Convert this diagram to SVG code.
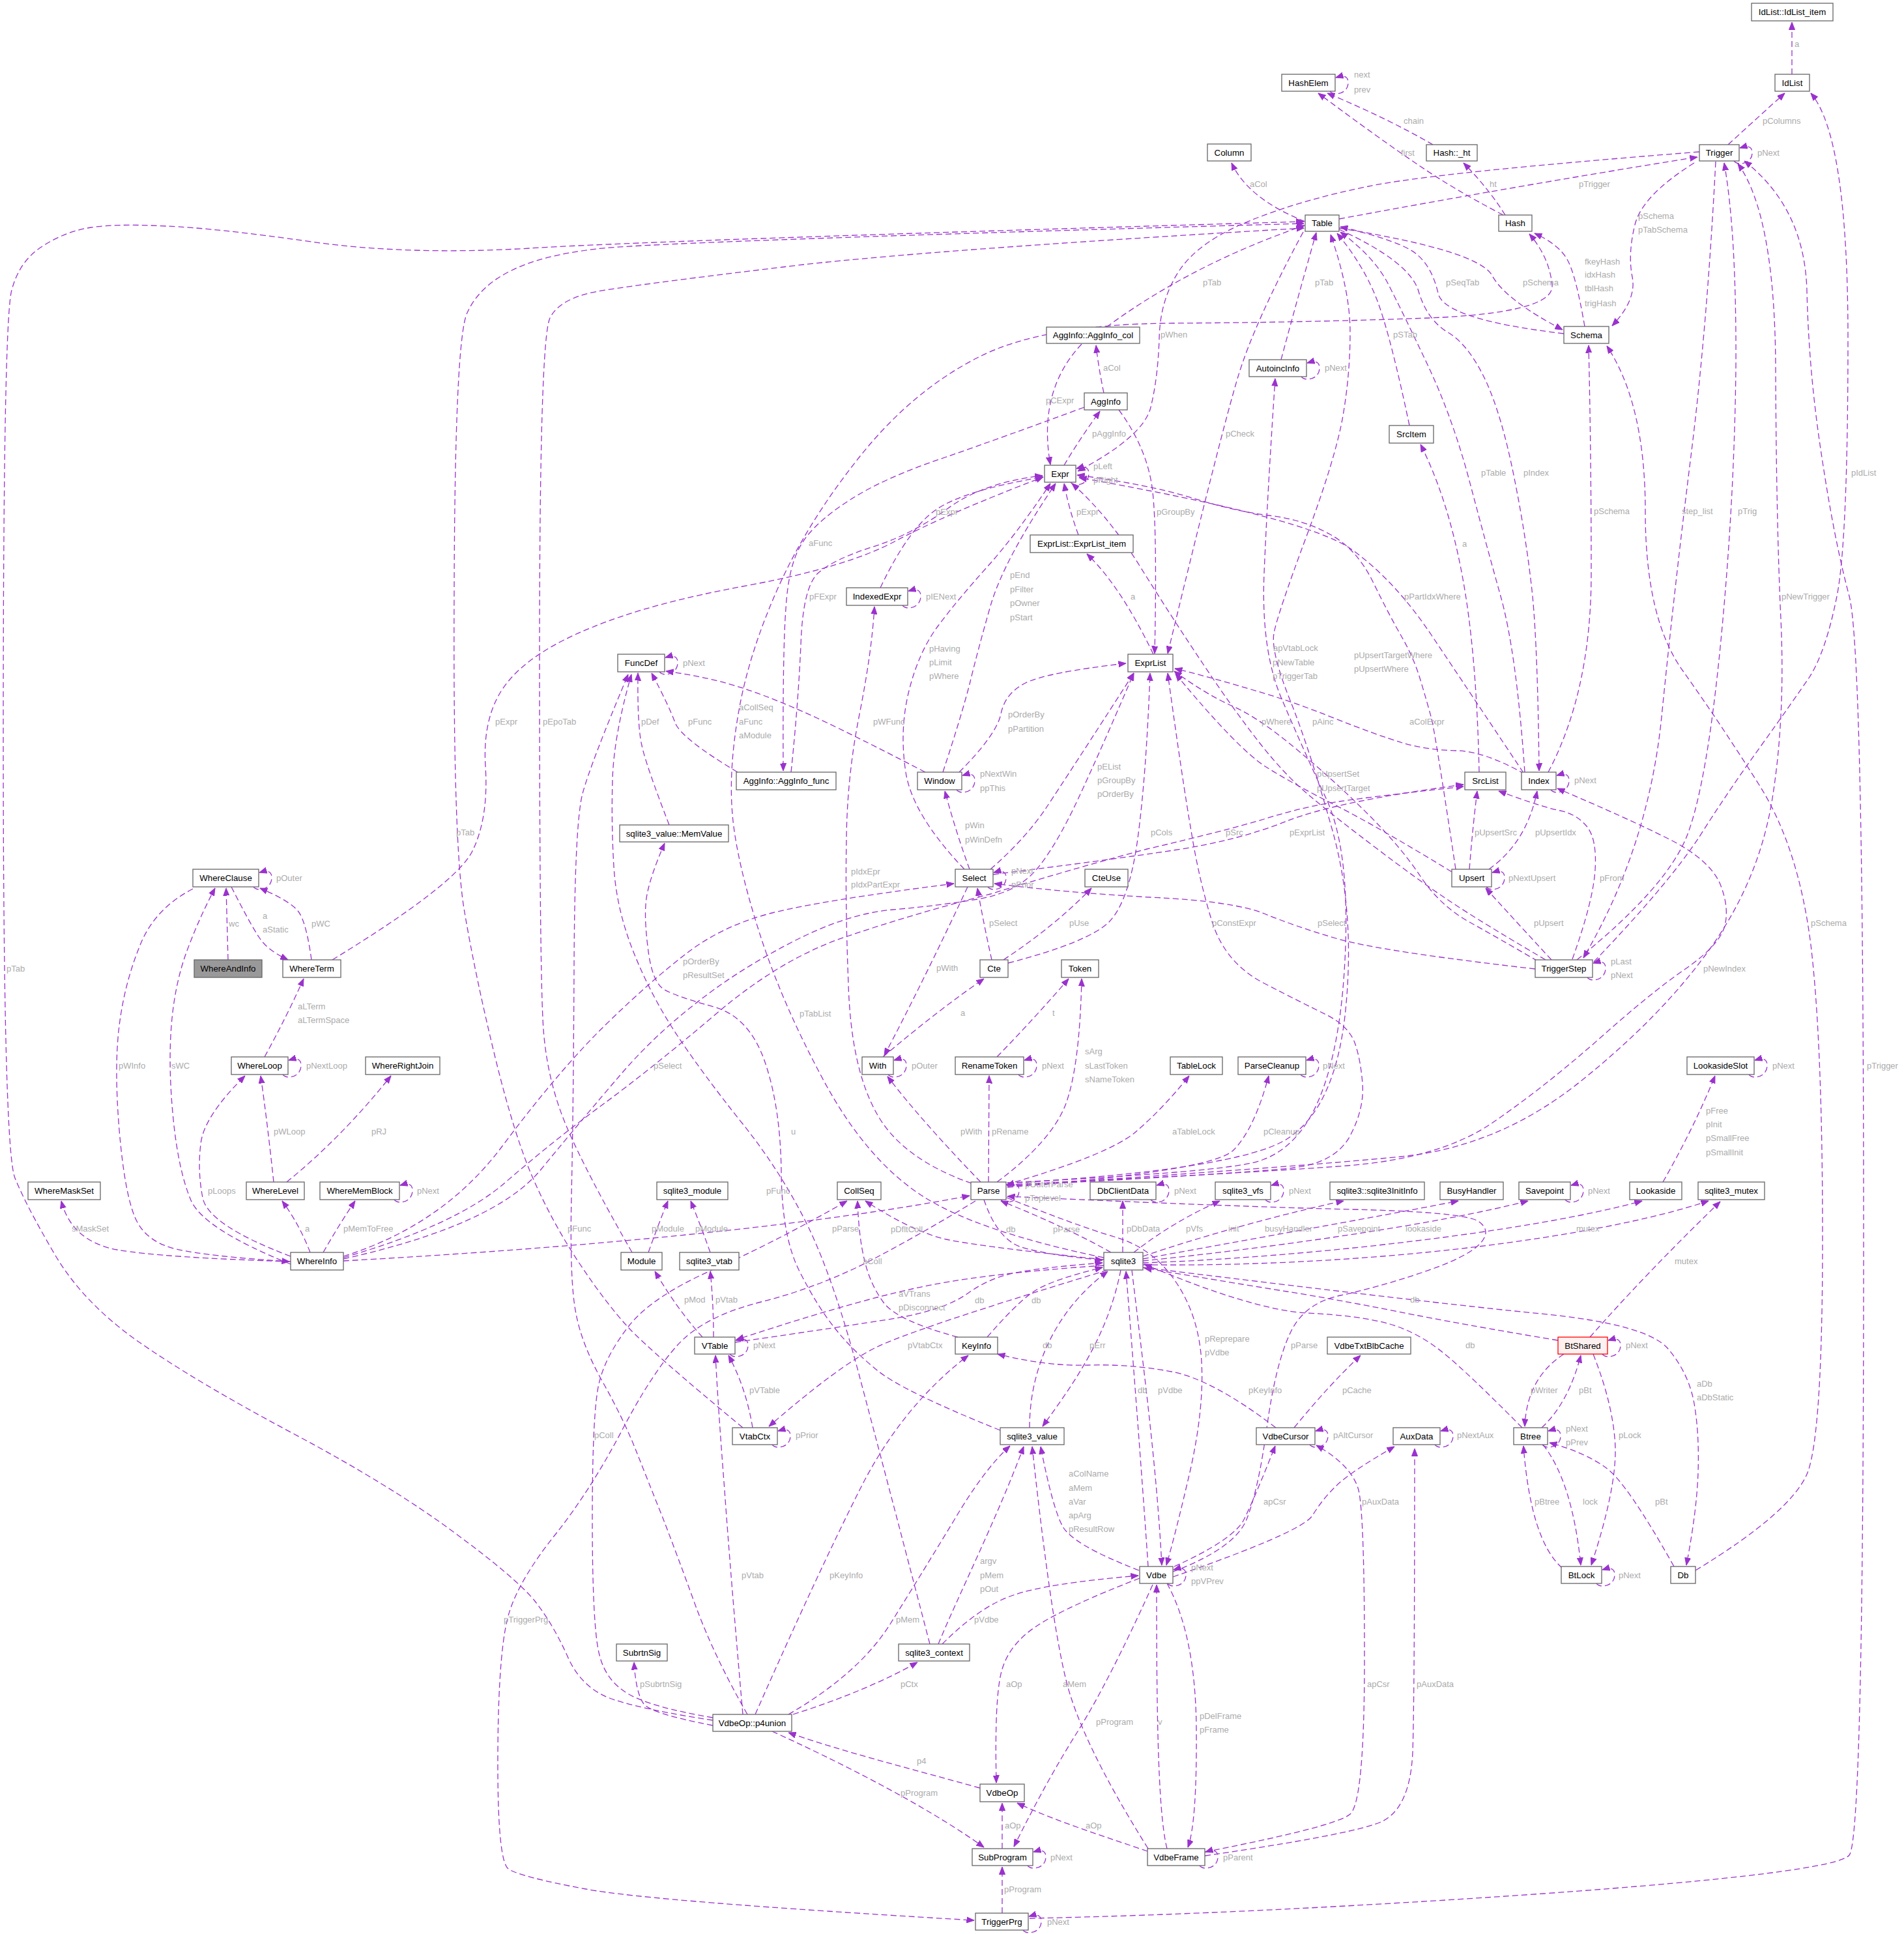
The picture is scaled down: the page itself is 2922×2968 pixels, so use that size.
<svg xmlns="http://www.w3.org/2000/svg" width="2922" height="2968" viewBox="0 0 2922 2968">
<style>
.n rect{fill:#fff;stroke:#666;stroke-width:1.3}
.n text{font-family:"Liberation Sans",Arial,sans-serif;font-size:13.3px;text-anchor:middle;fill:#000}
.e path{fill:none;stroke:#9a32cd;stroke-width:1.3;stroke-dasharray:9,5;marker-end:url(#ah)}
.l text{font-family:"Liberation Sans",Arial,sans-serif;font-size:13px;fill:#ababab}
</style>
<defs>
<marker id="ah" viewBox="0 0 12 10" refX="11.5" refY="5" markerWidth="12" markerHeight="10" markerUnits="userSpaceOnUse" orient="auto"><path d="M0,0.5 L11.5,5 L0,9.5 z" fill="#9a32cd" stroke="#9a32cd" stroke-width="1"/></marker>
</defs>
<rect width="2922" height="2968" fill="#fff"/>
<g id="edges" class="e">
<path d="M2750,114 L2750,34"/>
<path d="M2652,222 Q2700,178 2739,143"/>
<path d="M2199,222 Q2130,182 2037,143"/>
<path d="M2307,330 Q2230,290 2175,252 Q2120,215 2023,143"/>
<path d="M2041,140 C2047,148 2069,144 2069,127 C2069,117 2063,115 2050,119"/>
<path d="M2310,330 Q2285,290 2246,250"/>
<path d="M2661,247 C2667,255 2689,251 2689,235 C2689,225 2683,223 2670,227"/>
<path d="M2055,336 Q2330,285 2605,241"/>
<path d="M2608,233 Q2200,265 2100,286 Q2000,306 1920,338 Q1840,370 1810,415 Q1780,460 1779,520 Q1777,580 1766,625 Q1755,670 1654,723"/>
<path d="M2003,340 Q1915,305 1890,250"/>
<path d="M2600,250 Q2520,300 2509,345 Q2498,390 2505,425 Q2512,460 2474,500"/>
<path d="M2432,501 Q2418,420 2405,398 Q2392,375 2355,358"/>
<path d="M2400,512 Q2215,490 2207,450 Q2198,410 2174,390 Q2150,370 2057,348"/>
<path d="M2055,350 Q2270,385 2290,423 Q2310,460 2398,506"/>
<path d="M1694,1930 Q1500,1890 1415,1835 Q1330,1780 1265,1660 Q1200,1540 1165,1430 Q1130,1320 1124,1250 Q1118,1180 1134,1090 Q1150,1000 1195,900 Q1240,800 1320,700 Q1400,600 1500,549 Q1600,497 1800,496 Q2000,495 2193,488 Q2385,480 2382,438 Q2378,395 2347,359"/>
<path d="M1698,502 Q1830,405 2002,346"/>
<path d="M1660,528 Q1592,600 1612,713"/>
<path d="M1694,603 Q1686,565 1682,530"/>
<path d="M1633,714 Q1658,672 1688,631"/>
<path d="M1717,629 Q1762,690 1769,755 Q1776,820 1772,1003"/>
<path d="M2000,356 Q1925,495 1900,578 Q1875,660 1792,1003"/>
<path d="M1966,552 Q1992,455 2020,357"/>
<path d="M1997,578 C2003,586 2025,582 2025,565 C2025,555 2019,553 2006,557"/>
<path d="M2163,653 Q2135,520 2115,465 Q2095,410 2052,358"/>
<path d="M2340,1185 Q2327,1000 2303,915 Q2279,829 2254,734 Q2228,638 2190,558 Q2152,478 2131,437 Q2110,395 2057,356"/>
<path d="M2055,352 Q2164,402 2177,447 Q2190,491 2222,510 Q2254,529 2280,584 Q2305,638 2324,734 Q2343,829 2352,915 Q2360,1000 2362,1183"/>
<path d="M2380,1212 C2386,1220 2408,1216 2408,1198 C2408,1188 2402,1186 2389,1190"/>
<path d="M2376,1185 Q2442,1060 2442,880 Q2442,700 2438,530"/>
<path d="M2602,2410 Q2750,2320 2774,2260 Q2797,2200 2797,1900 Q2797,1600 2779,1450 Q2760,1300 2700,1205 Q2640,1110 2583,1030 Q2525,950 2525,785 Q2525,620 2466,531"/>
<path d="M2420,1473 Q2560,1360 2590,1280 Q2620,1200 2641,983 Q2662,765 2664,561 Q2665,357 2646,250"/>
<path d="M2633,248 Q2620,500 2595,700 Q2570,900 2550,1100 Q2530,1300 2430,1470"/>
<path d="M1546,1820 Q2000,1790 2150,1775 Q2300,1760 2425,1660 Q2550,1560 2625,1455 Q2700,1350 2720,1225 Q2740,1100 2733,950 Q2726,800 2725,565 Q2724,330 2667,251"/>
<path d="M1580,2944 Q1922,2937 2369,2906 Q2815,2874 2838,2847 Q2860,2820 2860,1910 Q2860,1000 2838,915 Q2815,829 2796,702 Q2776,574 2773,447 Q2770,320 2677,247"/>
<path d="M2446,1476 Q2560,1357 2608,1284 Q2655,1210 2703,1144 Q2751,1077 2777,1039 Q2802,1000 2819,915 Q2836,830 2836,520 Q2836,210 2779,143"/>
<path d="M510,1473 Q700,1357 725,1306 Q750,1255 745,1176 Q740,1096 778,1048 Q816,1000 908,963 Q1000,925 1150,898 Q1300,870 1375,830 Q1450,790 1601,732"/>
<path d="M970,1922 Q900,1800 870,1730 Q840,1660 834,1580 Q828,1500 828,1010 Q828,520 844,488 Q860,455 930,445 Q1000,434 1200,410 Q1400,385 2001,350"/>
<path d="M1140,2191 Q1000,2075 965,2038 Q930,2000 890,1940 Q850,1880 820,1813 Q790,1746 760,1623 Q730,1500 713,1400 Q695,1300 697,910 Q698,520 717,480 Q735,440 783,416 Q830,392 915,382 Q1000,371 2001,343"/>
<path d="M1094,2640 Q995,2625 944,2609 Q893,2593 871,2542 Q848,2491 820,2456 Q791,2421 696,2351 Q600,2280 450,2200 Q300,2120 214,2060 Q128,2000 84,1925 Q40,1850 23,1808 Q5,1765 5,1128 Q5,490 18,445 Q30,400 65,378 Q100,355 140,349 Q179,343 255,347 Q330,350 478,371 Q625,392 813,381 Q1000,369 2001,340"/>
<path d="M1497,1843 Q1415,1893 1335,1935 Q1255,1976 1168,1998 Q1080,2020 1040,2064 Q1000,2108 953,2198 Q906,2287 853,2354 Q800,2420 783,2470 Q765,2520 764,2688 Q763,2855 780,2868 Q797,2880 899,2899 Q1000,2918 1495,2947"/>
<path d="M350,1473 L347,1363"/>
<path d="M389,1361 C395,1369 417,1365 417,1347 C417,1337 411,1335 398,1339"/>
<path d="M355,1361 Q385,1420 398,1439 Q410,1458 442,1473"/>
<path d="M478,1473 Q470,1415 458,1399 Q446,1383 399,1363"/>
<path d="M296,1364 Q236,1395 214,1453 Q191,1510 183,1574 Q175,1638 183,1734 Q191,1829 207,1868 Q223,1906 271,1917 Q319,1928 444,1936"/>
<path d="M446,1940 Q312,1886 293,1842 Q274,1797 266,1718 Q258,1638 263,1574 Q268,1510 287,1459 Q306,1408 330,1363"/>
<path d="M406,1622 Q440,1560 466,1502"/>
<path d="M434,1649 C440,1657 462,1653 462,1635 C462,1625 456,1623 443,1627"/>
<path d="M420,1814 Q410,1720 400,1651"/>
<path d="M440,1814 Q525,1745 600,1651"/>
<path d="M446,1928 Q319,1880 311,1838 Q303,1797 308,1756 Q312,1714 376,1651"/>
<path d="M446,1936 Q250,1930 180,1918 Q110,1905 94,1843"/>
<path d="M476,1922 Q460,1880 433,1843"/>
<path d="M496,1922 Q520,1880 545,1843"/>
<path d="M605,1841 C611,1849 633,1845 633,1827 C633,1817 627,1815 614,1819"/>
<path d="M527,1935 C800,1920 1200,1890 1488,1835"/>
<path d="M527,1928 Q680,1880 770,1760 Q860,1640 930,1572 Q1000,1504 1055,1462 Q1110,1420 1185,1401 Q1260,1382 1464,1356"/>
<path d="M527,1932 Q760,1880 830,1795 Q900,1710 950,1652 Q1000,1593 1065,1542 Q1130,1490 1215,1446 Q1300,1402 1370,1396 Q1440,1390 1500,1380 Q1560,1370 1590,1335 Q1620,1300 1655,1225 Q1690,1150 1740,1033"/>
<path d="M527,1930 Q700,1880 775,1815 Q850,1750 925,1695 Q1000,1640 1100,1555 Q1200,1470 1300,1437 Q1400,1403 1520,1372 Q1640,1335 1760,1303 Q1880,1275 1940,1257 Q2000,1238 2055,1230 Q2110,1222 2246,1207"/>
<path d="M1480,1334 Q1400,1250 1390,1185 Q1380,1120 1395,1060 Q1410,1000 1440,960 Q1470,920 1515,870 Q1560,820 1612,742"/>
<path d="M1447,1185 Q1475,1100 1488,1050 Q1500,1000 1520,930 Q1540,860 1620,742"/>
<path d="M1420,1185 Q1312,1129 1254,1102 Q1196,1075 1143,1057 Q1089,1039 1022,1030"/>
<path d="M1012,1031 C1018,1039 1040,1035 1040,1017 C1040,1007 1034,1005 1021,1009"/>
<path d="M1132,1185 Q1045,1133 1036,1109 Q1027,1084 1000,1033"/>
<path d="M1027,1266 Q991,1173 985,1144 Q978,1115 979,1033"/>
<path d="M1147,2631 Q1096,2542 1067,2463 Q1038,2383 1017,2329 Q995,2274 976,2226 Q957,2178 925,2121 Q893,2064 884,2016 Q874,1968 877,1834 Q880,1700 881,1482 Q882,1263 894,1218 Q906,1173 964,1035"/>
<path d="M1427,2523 Q1357,2255 1319,2112 Q1281,1968 1241,1884 Q1200,1800 1140,1725 Q1080,1650 1040,1590 Q1000,1530 973,1463 Q946,1396 942,1330 Q938,1263 940,1196 Q942,1129 969,1035"/>
<path d="M1535,2195 Q1383,2134 1345,2102 Q1306,2070 1281,2038 Q1255,2006 1228,1953 Q1200,1900 1199,1800 Q1198,1700 1174,1630 Q1150,1560 1095,1545 Q1040,1530 1020,1519 Q1000,1508 994,1452 Q987,1396 994,1368 Q1000,1340 1020,1294"/>
<path d="M1120,2078 C1126,2086 1148,2082 1148,2065 C1148,2055 1142,2053 1129,2057"/>
<path d="M1078,2052 Q1040,2010 1005,1951"/>
<path d="M1095,2052 Q1095,2000 1090,1951"/>
<path d="M1128,2060 Q1300,2035 1375,2023 Q1450,2010 1485,1985 Q1520,1960 1560,1953 Q1600,1945 1692,1938"/>
<path d="M1515,2052 Q1560,2000 1585,1983 Q1610,1965 1692,1945"/>
<path d="M1694,1942 Q1500,1955 1400,1978 Q1300,2000 1130,2056"/>
<path d="M1155,2191 Q1145,2130 1118,2080"/>
<path d="M1185,2217 C1191,2225 1213,2221 1213,2204 C1213,2194 1207,2192 1194,2196"/>
<path d="M1700,1949 Q1400,2040 1344,2068 Q1287,2096 1180,2189"/>
<path d="M1140,2631 Q1121,2414 1112,2287 Q1102,2159 1098,2080"/>
<path d="M1159,2631 Q1255,2414 1319,2287 Q1383,2159 1486,2080"/>
<path d="M1210,2631 Q1319,2568 1367,2491 Q1415,2414 1463,2335 Q1510,2255 1550,2219"/>
<path d="M1217,2631 Q1330,2595 1408,2551"/>
<path d="M1094,2648 Q1000,2630 988,2615 Q976,2599 973,2551"/>
<path d="M1185,2657 C1280,2700 1420,2770 1510,2835"/>
<path d="M1504,2744 C1400,2715 1300,2690 1210,2659"/>
<path d="M1761,2841 C1700,2820 1620,2795 1561,2767"/>
<path d="M1538,2837 L1538,2767"/>
<path d="M1577,2863 C1583,2871 1605,2867 1605,2850 C1605,2840 1599,2838 1586,2842"/>
<path d="M1538,2936 L1538,2865"/>
<path d="M1570,2962 C1576,2970 1598,2966 1598,2949 C1598,2939 1592,2937 1579,2941"/>
<path d="M1749,2422 Q1638,2465 1593,2494 Q1548,2523 1537,2565 Q1526,2606 1529,2736"/>
<path d="M1769,2432 Q1702,2580 1654,2657 Q1606,2733 1556,2834"/>
<path d="M1791,2837 C1776,2780 1775,2600 1775,2432"/>
<path d="M1791,2430 Q1835,2510 1836,2654 Q1837,2797 1823,2835"/>
<path d="M1841,2863 C1847,2871 1869,2867 1869,2850 C1869,2840 1863,2838 1850,2842"/>
<path d="M1762,2837 Q1657,2670 1635,2574 Q1612,2478 1584,2220"/>
<path d="M1748,2410 Q1644,2370 1630,2341 Q1615,2312 1597,2220"/>
<path d="M1440,2523 C1470,2450 1530,2330 1571,2220"/>
<path d="M1446,2523 Q1504,2465 1555,2448 Q1606,2430 1747,2418"/>
<path d="M1762,2404 C1755,2300 1740,2100 1728,1951"/>
<path d="M1737,1949 C1755,2100 1775,2250 1783,2402"/>
<path d="M1545,1838 Q1650,1880 1710,1898 Q1770,1915 1805,1968 Q1840,2020 1844,2090 Q1848,2160 1827,2255 Q1805,2350 1790,2402"/>
<path d="M1800,2412 Q1895,2376 1913,2332 Q1931,2287 1944,2192 Q1957,2096 1979,2048 Q2000,2000 2057,1988 Q2113,1976 2182,1953 Q2250,1930 2270,1910 Q2290,1890 2270,1875 Q2250,1860 2075,1856 Q1900,1852 1546,1836"/>
<path d="M1705,1922 Q1640,1885 1536,1843"/>
<path d="M1510,1841 Q1530,1900 1565,1913 Q1600,1925 1692,1934"/>
<path d="M1536,1841 C1542,1849 1564,1845 1564,1827 C1564,1817 1558,1815 1545,1819"/>
<path d="M1694,1933 Q1504,1913 1452,1902 Q1400,1890 1328,1843"/>
<path d="M1470,2052 Q1377,2027 1356,1999 Q1335,1970 1327,1935 Q1318,1900 1316,1843"/>
<path d="M1094,2636 Q1000,2620 965,2600 Q930,2580 920,2540 Q909,2500 909,2330 Q909,2160 920,2120 Q930,2080 965,2035 Q1000,1990 1095,1948 Q1190,1906 1300,1843"/>
<path d="M1723,1922 L1723,1843"/>
<path d="M1766,1841 C1772,1849 1794,1845 1794,1827 C1794,1817 1788,1815 1775,1819"/>
<path d="M1740,1922 Q1800,1875 1872,1843"/>
<path d="M1942,1841 C1948,1849 1970,1845 1970,1827 C1970,1817 1964,1815 1951,1819"/>
<path d="M1754,1928 C1850,1895 1980,1860 2062,1843"/>
<path d="M1754,1932 C1900,1905 2100,1870 2238,1843"/>
<path d="M1754,1935 C1950,1915 2200,1880 2345,1843"/>
<path d="M2402,1841 C2408,1849 2430,1845 2430,1827 C2430,1817 2424,1815 2411,1819"/>
<path d="M1754,1938 C2000,1930 2350,1890 2520,1843"/>
<path d="M1754,1941 C2100,1945 2450,1900 2622,1843"/>
<path d="M2440,2052 Q2530,1950 2640,1844"/>
<path d="M2552,1814 Q2600,1730 2632,1651"/>
<path d="M2684,1649 C2690,1657 2712,1653 2712,1635 C2712,1625 2706,1623 2693,1627"/>
<path d="M1754,1945 Q2200,2000 2364,2016 Q2528,2032 2560,2070 Q2592,2108 2600,2154 Q2608,2200 2606,2260 Q2604,2319 2588,2402"/>
<path d="M2569,2404 Q2496,2274 2464,2252 Q2432,2229 2378,2214"/>
<path d="M2336,2191 Q2254,2108 2216,2077 Q2177,2045 2133,2032 Q2088,2019 2005,2015 Q1922,2010 1756,1940"/>
<path d="M2391,2057 Q2241,2032 2146,2013 Q2050,1994 1975,1982 Q1900,1970 1756,1946"/>
<path d="M2400,2078 Q2343,2115 2340,2189"/>
<path d="M2366,2191 Q2407,2153 2426,2080"/>
<path d="M2459,2078 C2465,2086 2487,2082 2487,2065 C2487,2055 2481,2053 2468,2057"/>
<path d="M2445,2078 Q2477,2159 2479,2223 Q2480,2287 2442,2402"/>
<path d="M2367,2217 C2373,2225 2395,2221 2395,2204 C2395,2194 2389,2192 2376,2196"/>
<path d="M2368,2217 Q2413,2274 2426,2402"/>
<path d="M2397,2406 Q2349,2363 2338,2219"/>
<path d="M2450,2430 C2456,2438 2478,2434 2478,2417 C2478,2407 2472,2405 2459,2409"/>
<path d="M1986,2191 Q2040,2125 2088,2080"/>
<path d="M2010,2217 C2016,2225 2038,2221 2038,2204 C2038,2194 2032,2192 2019,2196"/>
<path d="M1958,2191 Q1861,2117 1798,2105 Q1734,2093 1670,2095 Q1606,2097 1531,2078"/>
<path d="M1802,2404 Q1893,2363 1909,2332 Q1925,2300 1957,2219"/>
<path d="M1849,2842 Q2050,2803 2072,2784 Q2094,2765 2094,2545 Q2094,2325 2085,2287 Q2075,2249 2020,2218"/>
<path d="M1849,2848 Q2069,2816 2117,2797 Q2164,2778 2168,2689 Q2171,2600 2171,2223"/>
<path d="M1800,2420 Q1998,2351 2014,2326 Q2030,2300 2050,2281 Q2069,2261 2140,2220"/>
<path d="M2202,2217 C2208,2225 2230,2221 2230,2204 C2230,2194 2224,2192 2211,2196"/>
<path d="M1792,2430 C1798,2438 1820,2434 1820,2417 C1820,2407 1814,2405 1801,2409"/>
<path d="M1720,1949 C1700,2050 1650,2120 1600,2189"/>
<path d="M1580,2191 C1580,2100 1620,2010 1700,1951"/>
<path d="M1505,1814 Q1415,1721 1362,1652"/>
<path d="M1517,1814 L1518,1651"/>
<path d="M1530,1814 Q1612,1753 1635,1696 Q1657,1638 1660,1502"/>
<path d="M1544,1818 Q1702,1772 1743,1737 Q1784,1702 1825,1651"/>
<path d="M1546,1822 Q1861,1797 1893,1765 Q1925,1733 1947,1651"/>
<path d="M1996,1649 C2002,1657 2024,1653 2024,1635 C2024,1625 2018,1623 2005,1627"/>
<path d="M1491,1816 Q1383,1778 1345,1708 Q1306,1638 1302,1511 Q1297,1383 1299,1287 Q1300,1191 1319,1096 Q1338,1000 1342,931"/>
<path d="M1351,902 Q1395,810 1437,782 Q1478,753 1600,732"/>
<path d="M1385,929 C1391,937 1413,933 1413,915 C1413,905 1407,903 1394,907"/>
<path d="M1546,1815 Q1850,1800 1920,1785 Q1990,1770 2025,1685 Q2060,1600 2065,1450 Q2070,1300 2035,1225 Q2000,1150 1968,1075 Q1935,1000 1940,880 Q1945,760 1957,581"/>
<path d="M1546,1816 Q1900,1795 1975,1748 Q2050,1700 2065,1550 Q2080,1400 2045,1275 Q2010,1150 1980,1075 Q1950,1000 1955,972 Q1960,944 2005,823 Q2050,702 2061,638 Q2072,574 2072,510 Q2072,446 2042,360"/>
<path d="M1546,1818 Q1922,1800 2066,1789 Q2209,1778 2289,1724 Q2368,1670 2451,1597 Q2534,1523 2585,1488 Q2636,1453 2646,1424 Q2655,1395 2640,1357 Q2624,1319 2560,1287 Q2496,1255 2390,1210"/>
<path d="M1546,1820 Q1922,1800 1986,1792 Q2050,1784 2072,1743 Q2094,1701 2091,1663 Q2088,1625 2079,1600 Q2069,1574 2035,1557 Q2000,1540 1940,1509 Q1880,1478 1860,1414 Q1840,1350 1828,1275 Q1815,1200 1792,1033"/>
<path d="M2255,1334 Q2260,1270 2267,1214"/>
<path d="M2285,1334 Q2343,1293 2359,1214"/>
<path d="M2281,1361 C2287,1369 2309,1365 2309,1347 C2309,1337 2303,1335 2290,1339"/>
<path d="M2228,1338 Q2113,1268 2050,1236 Q1986,1204 1943,1177 Q1900,1150 1804,1034"/>
<path d="M2234,1334 Q2203,1128 2197,1103 Q2190,1077 2180,1044 Q2170,1010 2151,977 Q2132,944 2107,893 Q2082,842 2041,820 Q2000,797 1947,791 Q1893,784 1829,764 Q1765,744 1653,729"/>
<path d="M2338,1186 Q2254,1060 2197,975 Q2140,890 2074,843 Q2007,795 1656,733"/>
<path d="M2340,1188 Q2279,1153 2235,1152 Q2190,1151 2152,1140 Q2113,1128 2047,1102 Q1980,1075 1920,1058 Q1860,1040 1803,1026"/>
<path d="M2372,1473 Q2273,1415 2225,1383 Q2177,1351 2114,1303 Q2050,1255 2012,1223 Q1973,1191 1933,1140 Q1893,1089 1847,1020 Q1800,950 1750,870 Q1700,790 1645,742"/>
<path d="M2360,1475 Q2300,1440 2255,1415 Q2210,1390 2180,1345 Q2150,1300 2100,1250 Q2050,1200 1990,1150 Q1930,1100 1890,1083 Q1850,1065 1802,1030"/>
<path d="M2356,1487 Q2113,1459 2050,1440 Q1986,1421 1940,1402 Q1893,1383 1766,1377 Q1638,1370 1526,1356"/>
<path d="M2413,1472 Q2445,1383 2448,1335 Q2451,1287 2435,1268 Q2419,1249 2394,1244 Q2368,1239 2300,1214"/>
<path d="M2381,1473 Q2330,1418 2280,1363"/>
<path d="M2436,1500 C2442,1508 2464,1504 2464,1486 C2464,1476 2458,1474 2445,1478"/>
<path d="M2270,1185 Q2266,1000 2244,883 Q2222,765 2180,682"/>
<path d="M1524,1342 Q1700,1320 1800,1305 Q1900,1290 1975,1260 Q2050,1230 2246,1204"/>
<path d="M1547,1478 Q1670,1446 1702,1415 Q1733,1383 1746,1287 Q1759,1191 1765,1033"/>
<path d="M1522,1473 Q1510,1420 1500,1363"/>
<path d="M1540,1473 Q1620,1420 1675,1363"/>
<path d="M1355,1622 Q1440,1550 1510,1502"/>
<path d="M1363,1649 C1369,1657 1391,1653 1391,1635 C1391,1625 1385,1623 1372,1627"/>
<path d="M1485,1361 Q1415,1510 1357,1620"/>
<path d="M1488,1334 Q1468,1280 1450,1214"/>
<path d="M1516,1361 C1522,1369 1544,1365 1544,1347 C1544,1337 1538,1335 1525,1339"/>
<path d="M1520,1334 Q1574,1287 1606,1239 Q1638,1191 1740,1033"/>
<path d="M1472,1185 Q1529,1128 1536,1096 Q1542,1064 1574,1048 Q1606,1032 1728,1018"/>
<path d="M1468,1212 C1474,1220 1496,1216 1496,1198 C1496,1188 1490,1186 1477,1190"/>
<path d="M1530,1622 Q1590,1560 1640,1502"/>
<path d="M1563,1649 C1569,1657 1591,1653 1591,1635 C1591,1625 1585,1623 1572,1627"/>
<path d="M1770,1004 Q1720,900 1668,850"/>
<path d="M1655,821 Q1640,780 1633,742"/>
<path d="M1643,740 C1649,748 1671,744 1671,727 C1671,717 1665,715 1652,719"/>
<path d="M1664,625 Q1542,670 1450,702 Q1357,733 1303,768 Q1249,803 1230,835 Q1210,867 1206,934 Q1201,1000 1202,1183"/>
<path d="M1214,1185 Q1225,1080 1229,990 Q1232,900 1256,879 Q1280,858 1340,839 Q1400,820 1455,780 Q1510,740 1600,730"/>
<path d="M1090,1922 Q1075,1880 1060,1843"/>
<path d="M995,1922 Q1010,1880 1025,1843"/>
</g>
<g id="nodes">
<g id="n_IdList_item" class="n"><rect x="2688" y="5" width="125" height="27"/><text x="2750.5" y="23">IdList::IdList_item</text></g>
<g id="n_IdList" class="n"><rect x="2724" y="114" width="53" height="26"/><text x="2750.5" y="131.5">IdList</text></g>
<g id="n_HashElem" class="n"><rect x="1967" y="114" width="82" height="26"/><text x="2008" y="131.5">HashElem</text></g>
<g id="n_Hash_ht" class="n"><rect x="2189" y="222" width="78" height="25"/><text x="2228" y="239">Hash::_ht</text></g>
<g id="n_Column" class="n"><rect x="1853" y="221" width="67" height="26"/><text x="1886.5" y="238.5">Column</text></g>
<g id="n_Trigger" class="n"><rect x="2608" y="222" width="61" height="25"/><text x="2638.5" y="239">Trigger</text></g>
<g id="n_Table" class="n"><rect x="2003" y="330" width="52" height="25"/><text x="2029" y="347">Table</text></g>
<g id="n_Hash" class="n"><rect x="2300" y="330" width="51" height="25"/><text x="2325.5" y="347">Hash</text></g>
<g id="n_AggInfo_col" class="n"><rect x="1606" y="502" width="143" height="25"/><text x="1677.5" y="519">AggInfo::AggInfo_col</text></g>
<g id="n_Schema" class="n"><rect x="2400" y="501" width="69" height="26"/><text x="2434.5" y="518.5">Schema</text></g>
<g id="n_AutoincInfo" class="n"><rect x="1917" y="552" width="88" height="26"/><text x="1961" y="569.5">AutoincInfo</text></g>
<g id="n_AggInfo" class="n"><rect x="1664" y="603" width="66" height="26"/><text x="1697" y="620.5">AggInfo</text></g>
<g id="n_SrcItem" class="n"><rect x="2132" y="653" width="68" height="27"/><text x="2166" y="671">SrcItem</text></g>
<g id="n_Expr" class="n"><rect x="1603" y="714" width="48" height="26"/><text x="1627" y="731.5">Expr</text></g>
<g id="n_ExprList_item" class="n"><rect x="1581" y="821" width="158" height="27"/><text x="1660" y="839">ExprList::ExprList_item</text></g>
<g id="n_IndexedExpr" class="n"><rect x="1299" y="902" width="94" height="27"/><text x="1346" y="920">IndexedExpr</text></g>
<g id="n_FuncDef" class="n"><rect x="948" y="1004" width="72" height="27"/><text x="984" y="1022">FuncDef</text></g>
<g id="n_ExprList" class="n"><rect x="1731" y="1004" width="69" height="27"/><text x="1765.5" y="1022">ExprList</text></g>
<g id="n_AggInfo_func" class="n"><rect x="1130" y="1185" width="153" height="27"/><text x="1206.5" y="1203">AggInfo::AggInfo_func</text></g>
<g id="n_Window" class="n"><rect x="1408" y="1185" width="68" height="27"/><text x="1442" y="1203">Window</text></g>
<g id="n_SrcList" class="n"><rect x="2248" y="1185" width="63" height="27"/><text x="2279.5" y="1203">SrcList</text></g>
<g id="n_Index" class="n"><rect x="2335" y="1185" width="53" height="27"/><text x="2361.5" y="1203">Index</text></g>
<g id="n_MemValue" class="n"><rect x="951" y="1266" width="167" height="26"/><text x="1034.5" y="1283.5">sqlite3_value::MemValue</text></g>
<g id="n_WhereClause" class="n"><rect x="296" y="1334" width="101" height="27"/><text x="346.5" y="1352">WhereClause</text></g>
<g id="n_Select" class="n"><rect x="1466" y="1334" width="58" height="27"/><text x="1495" y="1352">Select</text></g>
<g id="n_CteUse" class="n"><rect x="1665" y="1334" width="66" height="27"/><text x="1698" y="1352">CteUse</text></g>
<g id="n_Upsert" class="n"><rect x="2228" y="1334" width="61" height="27"/><text x="2258.5" y="1352">Upsert</text></g>
<g id="n_WhereAndInfo" class="n"><rect x="298" y="1473" width="104" height="27" style="fill:#999999"/><text x="350" y="1491">WhereAndInfo</text></g>
<g id="n_WhereTerm" class="n"><rect x="434" y="1473" width="89" height="27"/><text x="478.5" y="1491">WhereTerm</text></g>
<g id="n_Cte" class="n"><rect x="1504" y="1473" width="43" height="27"/><text x="1525.5" y="1491">Cte</text></g>
<g id="n_Token" class="n"><rect x="1629" y="1473" width="57" height="27"/><text x="1657.5" y="1491">Token</text></g>
<g id="n_TriggerStep" class="n"><rect x="2356" y="1473" width="88" height="27"/><text x="2400" y="1491">TriggerStep</text></g>
<g id="n_WhereLoop" class="n"><rect x="355" y="1622" width="87" height="27"/><text x="398.5" y="1640">WhereLoop</text></g>
<g id="n_WhereRightJoin" class="n"><rect x="561" y="1622" width="114" height="27"/><text x="618" y="1640">WhereRightJoin</text></g>
<g id="n_With" class="n"><rect x="1323" y="1622" width="48" height="27"/><text x="1347" y="1640">With</text></g>
<g id="n_RenameToken" class="n"><rect x="1466" y="1622" width="105" height="27"/><text x="1518.5" y="1640">RenameToken</text></g>
<g id="n_TableLock" class="n"><rect x="1796" y="1622" width="80" height="27"/><text x="1836" y="1640">TableLock</text></g>
<g id="n_ParseCleanup" class="n"><rect x="1900" y="1622" width="104" height="27"/><text x="1952" y="1640">ParseCleanup</text></g>
<g id="n_LookasideSlot" class="n"><rect x="2589" y="1622" width="103" height="27"/><text x="2640.5" y="1640">LookasideSlot</text></g>
<g id="n_WhereMaskSet" class="n"><rect x="43" y="1814" width="111" height="27"/><text x="98.5" y="1832">WhereMaskSet</text></g>
<g id="n_WhereLevel" class="n"><rect x="378" y="1814" width="89" height="27"/><text x="422.5" y="1832">WhereLevel</text></g>
<g id="n_WhereMemBlock" class="n"><rect x="491" y="1814" width="122" height="27"/><text x="552" y="1832">WhereMemBlock</text></g>
<g id="n_sqlite3_module" class="n"><rect x="1008" y="1814" width="109" height="27"/><text x="1062.5" y="1832">sqlite3_module</text></g>
<g id="n_CollSeq" class="n"><rect x="1285" y="1814" width="67" height="27"/><text x="1318.5" y="1832">CollSeq</text></g>
<g id="n_Parse" class="n"><rect x="1490" y="1814" width="54" height="27"/><text x="1517" y="1832">Parse</text></g>
<g id="n_DbClientData" class="n"><rect x="1673" y="1814" width="101" height="27"/><text x="1723.5" y="1832">DbClientData</text></g>
<g id="n_sqlite3_vfs" class="n"><rect x="1865" y="1814" width="85" height="27"/><text x="1907.5" y="1832">sqlite3_vfs</text></g>
<g id="n_InitInfo" class="n"><rect x="2041" y="1814" width="145" height="27"/><text x="2113.5" y="1832">sqlite3::sqlite3InitInfo</text></g>
<g id="n_BusyHandler" class="n"><rect x="2210" y="1814" width="97" height="27"/><text x="2258.5" y="1832">BusyHandler</text></g>
<g id="n_Savepoint" class="n"><rect x="2331" y="1814" width="79" height="27"/><text x="2370.5" y="1832">Savepoint</text></g>
<g id="n_Lookaside" class="n"><rect x="2501" y="1814" width="80" height="27"/><text x="2541" y="1832">Lookaside</text></g>
<g id="n_sqlite3_mutex" class="n"><rect x="2606" y="1814" width="102" height="27"/><text x="2657" y="1832">sqlite3_mutex</text></g>
<g id="n_WhereInfo" class="n"><rect x="446" y="1922" width="81" height="27"/><text x="486.5" y="1940">WhereInfo</text></g>
<g id="n_Module" class="n"><rect x="953" y="1922" width="63" height="27"/><text x="984.5" y="1940">Module</text></g>
<g id="n_sqlite3_vtab" class="n"><rect x="1043" y="1922" width="91" height="27"/><text x="1088.5" y="1940">sqlite3_vtab</text></g>
<g id="n_sqlite3" class="n"><rect x="1694" y="1922" width="60" height="27"/><text x="1724" y="1940">sqlite3</text></g>
<g id="n_VTable" class="n"><rect x="1066" y="2052" width="62" height="26"/><text x="1097" y="2069.5">VTable</text></g>
<g id="n_KeyInfo" class="n"><rect x="1466" y="2052" width="65" height="26"/><text x="1498.5" y="2069.5">KeyInfo</text></g>
<g id="n_VdbeTxtBlbCache" class="n"><rect x="2037" y="2052" width="128" height="26"/><text x="2101" y="2069.5">VdbeTxtBlbCache</text></g>
<g id="n_BtShared" class="n"><rect x="2391" y="2052" width="76" height="26" style="fill:#fff0f0;stroke:#ff0000"/><text x="2429" y="2069.5">BtShared</text></g>
<g id="n_VtabCtx" class="n"><rect x="1124" y="2191" width="69" height="26"/><text x="1158.5" y="2208.5">VtabCtx</text></g>
<g id="n_sqlite3_value" class="n"><rect x="1535" y="2191" width="98" height="26"/><text x="1584" y="2208.5">sqlite3_value</text></g>
<g id="n_VdbeCursor" class="n"><rect x="1928" y="2191" width="90" height="26"/><text x="1973" y="2208.5">VdbeCursor</text></g>
<g id="n_AuxData" class="n"><rect x="2138" y="2191" width="72" height="26"/><text x="2174" y="2208.5">AuxData</text></g>
<g id="n_Btree" class="n"><rect x="2323" y="2191" width="52" height="26"/><text x="2349" y="2208.5">Btree</text></g>
<g id="n_Vdbe" class="n"><rect x="1749" y="2404" width="51" height="26"/><text x="1774.5" y="2421.5">Vdbe</text></g>
<g id="n_BtLock" class="n"><rect x="2396" y="2404" width="62" height="26"/><text x="2427" y="2421.5">BtLock</text></g>
<g id="n_Db" class="n"><rect x="2564" y="2404" width="38" height="26"/><text x="2583" y="2421.5">Db</text></g>
<g id="n_SubrtnSig" class="n"><rect x="946" y="2523" width="78" height="26"/><text x="985" y="2540.5">SubrtnSig</text></g>
<g id="n_sqlite3_context" class="n"><rect x="1379" y="2523" width="109" height="26"/><text x="1433.5" y="2540.5">sqlite3_context</text></g>
<g id="n_p4union" class="n"><rect x="1094" y="2631" width="121" height="26"/><text x="1154.5" y="2648.5">VdbeOp::p4union</text></g>
<g id="n_VdbeOp" class="n"><rect x="1504" y="2738" width="68" height="27"/><text x="1538" y="2756">VdbeOp</text></g>
<g id="n_SubProgram" class="n"><rect x="1492" y="2837" width="93" height="26"/><text x="1538.5" y="2854.5">SubProgram</text></g>
<g id="n_VdbeFrame" class="n"><rect x="1761" y="2837" width="88" height="26"/><text x="1805" y="2854.5">VdbeFrame</text></g>
<g id="n_TriggerPrg" class="n"><rect x="1497" y="2936" width="81" height="26"/><text x="1537.5" y="2953.5">TriggerPrg</text></g>
</g>
<g id="labels" class="l">
<text x="2754" y="72">a</text>
<text x="2078" y="119">next</text><text x="2078" y="142">prev</text>
<text x="2154" y="190">chain</text>
<text x="2705" y="190">pColumns</text>
<text x="2150" y="239">first</text>
<text x="2697" y="239">pNext</text>
<text x="2286" y="287">ht</text>
<text x="2423" y="287">pTrigger</text>
<text x="1918" y="287">aCol</text>
<text x="2018" y="438">pTab</text>
<text x="2219" y="438">pSeqTab</text>
<text x="2337" y="438">pSchema</text>
<text x="1846" y="438">pTab</text>
<text x="2514" y="336">pSchema</text><text x="2514" y="357">pTabSchema</text>
<text x="2432" y="406">fkeyHash</text><text x="2432" y="426">idxHash</text><text x="2432" y="447">tblHash</text><text x="2432" y="470">trigHash</text>
<text x="2138" y="518">pSTab</text>
<text x="1781" y="518">pWhen</text>
<text x="1693" y="569">aCol</text>
<text x="2033" y="569">pNext</text>
<text x="1605" y="619">pCExpr</text>
<text x="1676" y="670">pAggInfo</text>
<text x="1881" y="670">pCheck</text>
<text x="1678" y="720">pLeft</text><text x="1678" y="741">pRight</text>
<text x="2273" y="730">pTable</text><text x="2338" y="730">pIndex</text>
<text x="2841" y="730">pIdList</text>
<text x="2446" y="789">pSchema</text>
<text x="2581" y="789">step_list</text>
<text x="2667" y="789">pTrig</text>
<text x="1436" y="790">pExpr</text>
<text x="1652" y="790">pExpr</text>
<text x="1775" y="790">pGroupBy</text>
<text x="1241" y="838">aFunc</text>
<text x="2244" y="839">a</text>
<text x="1550" y="887">pEnd</text><text x="1550" y="909">pFilter</text><text x="1550" y="930">pOwner</text><text x="1550" y="952">pStart</text>
<text x="1242" y="920">pFExpr</text>
<text x="1421" y="920">pIENext</text>
<text x="1735" y="920">a</text>
<text x="2155" y="920">pPartIdxWhere</text>
<text x="2734" y="920">pNewTrigger</text>
<text x="1426" y="1000">pHaving</text><text x="1426" y="1021">pLimit</text><text x="1426" y="1042">pWhere</text>
<text x="1954" y="999">apVtabLock</text><text x="1953" y="1021">pNewTable</text><text x="1953" y="1042">pTriggerTab</text>
<text x="2078" y="1010">pUpsertTargetWhere</text><text x="2078" y="1031">pUpsertWhere</text>
<text x="1048" y="1022">pNext</text>
<text x="760" y="1112">pExpr</text>
<text x="833" y="1112">pEpoTab</text>
<text x="984" y="1112">pDef</text>
<text x="1056" y="1112">pFunc</text>
<text x="1134" y="1090">aCollSeq</text><text x="1134" y="1112">aFunc</text><text x="1134" y="1133">aModule</text>
<text x="1340" y="1112">pWFunc</text>
<text x="1547" y="1101">pOrderBy</text><text x="1547" y="1123">pPartition</text>
<text x="1936" y="1112">pWhere</text>
<text x="2014" y="1112">pAinc</text>
<text x="2163" y="1112">aColExpr</text>
<text x="1684" y="1181">pEList</text><text x="1684" y="1202">pGroupBy</text><text x="1684" y="1223">pOrderBy</text>
<text x="1504" y="1192">pNextWin</text><text x="1504" y="1214">ppThis</text>
<text x="2021" y="1192">pUpsertSet</text><text x="2021" y="1214">pUpsertTarget</text>
<text x="2416" y="1202">pNext</text>
<text x="1481" y="1271">pWin</text><text x="1481" y="1293">pWinDefn</text>
<text x="700" y="1282">pTab</text>
<text x="1766" y="1282">pCols</text>
<text x="1881" y="1282">pSrc</text>
<text x="1979" y="1282">pExprList</text>
<text x="2263" y="1282">pUpsertSrc</text>
<text x="2356" y="1282">pUpsertIdx</text>
<text x="1306" y="1342">pIdxEpr</text><text x="1306" y="1362">pIdxPartExpr</text>
<text x="1552" y="1341">pNext</text><text x="1552" y="1362">pPrior</text>
<text x="424" y="1352">pOuter</text>
<text x="2315" y="1352">pNextUpsert</text>
<text x="2455" y="1352">pFrom</text>
<text x="403" y="1410">a</text><text x="403" y="1431">aStatic</text>
<text x="351" y="1422">wc</text>
<text x="478" y="1422">pWC</text>
<text x="1518" y="1421">pSelect</text>
<text x="1641" y="1421">pUse</text>
<text x="1860" y="1421">pConstExpr</text>
<text x="2022" y="1421">pSelect</text>
<text x="2354" y="1421">pUpsert</text>
<text x="2779" y="1421">pSchema</text>
<text x="1048" y="1480">pOrderBy</text><text x="1048" y="1501">pResultSet</text>
<text x="2472" y="1480">pLast</text><text x="2472" y="1501">pNext</text>
<text x="1437" y="1490">pWith</text>
<text x="2614" y="1491">pNewIndex</text>
<text x="10" y="1491">pTab</text>
<text x="457" y="1549">aLTerm</text><text x="457" y="1570">aLTermSpace</text>
<text x="1227" y="1560">pTabList</text>
<text x="1474" y="1559">a</text>
<text x="1615" y="1559">t</text>
<text x="1665" y="1618">sArg</text><text x="1665" y="1640">sLastToken</text><text x="1665" y="1661">sNameToken</text>
<text x="182" y="1640">pWInfo</text>
<text x="263" y="1640">sWC</text>
<text x="470" y="1640">pNextLoop</text>
<text x="1003" y="1640">pSelect</text>
<text x="1399" y="1640">pOuter</text>
<text x="1599" y="1640">pNext</text>
<text x="2030" y="1640">pNext</text>
<text x="2720" y="1640">pNext</text>
<text x="2865" y="1640">pTrigger</text>
<text x="2618" y="1709">pFree</text><text x="2618" y="1730">pInit</text><text x="2618" y="1751">pSmallFree</text><text x="2618" y="1773">pSmallInit</text>
<text x="420" y="1741">pWLoop</text>
<text x="570" y="1741">pRJ</text>
<text x="1214" y="1741">u</text>
<text x="1474" y="1741">pWith</text>
<text x="1522" y="1741">pRename</text>
<text x="1799" y="1741">aTableLock</text>
<text x="1939" y="1741">pCleanup</text>
<text x="1573" y="1822">pOuterParse</text><text x="1573" y="1843">pToplevel</text>
<text x="319" y="1832">pLoops</text>
<text x="640" y="1832">pNext</text>
<text x="1176" y="1832">pFunc</text>
<text x="1802" y="1832">pNext</text>
<text x="1978" y="1832">pNext</text>
<text x="2437" y="1832">pNext</text>
<text x="110" y="1890">sMaskSet</text>
<text x="468" y="1890">a</text>
<text x="527" y="1890">pMemToFree</text>
<text x="871" y="1890">pFunc</text>
<text x="1000" y="1890">pModule</text>
<text x="1067" y="1890">pModule</text>
<text x="1277" y="1890">pParse</text>
<text x="1367" y="1891">pDfltColl</text>
<text x="1544" y="1891">db</text>
<text x="1616" y="1891">pParse</text>
<text x="1729" y="1890">pDbData</text>
<text x="1820" y="1890">pVfs</text>
<text x="1885" y="1890">init</text>
<text x="1941" y="1890">busyHandler</text>
<text x="2053" y="1890">pSavepoint</text>
<text x="2157" y="1890">lookaside</text>
<text x="2419" y="1890">mutex</text>
<text x="1324" y="1940">aColl</text>
<text x="2570" y="1940">mutex</text>
<text x="1379" y="1990">aVTrans</text><text x="1379" y="2011">pDisconnect</text>
<text x="1050" y="1999">pMod</text>
<text x="1098" y="1999">pVtab</text>
<text x="1496" y="2000">db</text>
<text x="1583" y="2000">db</text>
<text x="2164" y="1999">db</text>
<text x="1849" y="2059">pReprepare</text><text x="1849" y="2080">pVdbe</text>
<text x="1156" y="2069">pNext</text>
<text x="1393" y="2069">pVtabCtx</text>
<text x="1600" y="2069">db</text>
<text x="1672" y="2069">pErr</text>
<text x="1981" y="2069">pParse</text>
<text x="2249" y="2069">db</text>
<text x="2495" y="2069">pNext</text>
<text x="2604" y="2128">aDb</text><text x="2604" y="2149">aDbStatic</text>
<text x="1150" y="2138">pVTable</text>
<text x="1746" y="2138">db</text>
<text x="1777" y="2138">pVdbe</text>
<text x="1916" y="2138">pKeyInfo</text>
<text x="2060" y="2138">pCache</text>
<text x="2349" y="2138">pWriter</text>
<text x="2423" y="2138">pBt</text>
<text x="1221" y="2207">pPrior</text>
<text x="912" y="2207">pColl</text>
<text x="2046" y="2207">pAltCursor</text>
<text x="2236" y="2207">pNextAux</text>
<text x="2403" y="2197">pNext</text><text x="2403" y="2218">pPrev</text>
<text x="2484" y="2207">pLock</text>
<text x="1640" y="2266">aColName</text><text x="1640" y="2288">aMem</text><text x="1640" y="2309">aVar</text><text x="1640" y="2330">apArg</text><text x="1640" y="2351">pResultRow</text>
<text x="1939" y="2309">apCsr</text>
<text x="2090" y="2309">pAuxData</text>
<text x="2355" y="2309">pBtree</text>
<text x="2429" y="2309">lock</text>
<text x="2540" y="2309">pBt</text>
<text x="1504" y="2400">argv</text><text x="1504" y="2422">pMem</text><text x="1504" y="2443">pOut</text>
<text x="1828" y="2410">pNext</text><text x="1828" y="2431">ppVPrev</text>
<text x="1138" y="2422">pVtab</text>
<text x="1273" y="2422">pKeyInfo</text>
<text x="2484" y="2422">pNext</text>
<text x="1375" y="2490">pMem</text>
<text x="1495" y="2490">pVdbe</text>
<text x="773" y="2490">pTriggerPrg</text>
<text x="982" y="2589">pSubrtnSig</text>
<text x="1382" y="2589">pCtx</text>
<text x="1544" y="2589">aOp</text>
<text x="1631" y="2589">aMem</text>
<text x="2098" y="2589">apCsr</text>
<text x="2174" y="2589">pAuxData</text>
<text x="1841" y="2638">pDelFrame</text><text x="1841" y="2659">pFrame</text>
<text x="1682" y="2647">pProgram</text>
<text x="1777" y="2647">v</text>
<text x="1407" y="2707">p4</text>
<text x="1382" y="2756">pProgram</text>
<text x="1542" y="2806">aOp</text>
<text x="1666" y="2806">aOp</text>
<text x="1612" y="2855">pNext</text>
<text x="1877" y="2855">pParent</text>
<text x="1541" y="2904">pProgram</text>
<text x="1607" y="2954">pNext</text>
</g>
</svg>
